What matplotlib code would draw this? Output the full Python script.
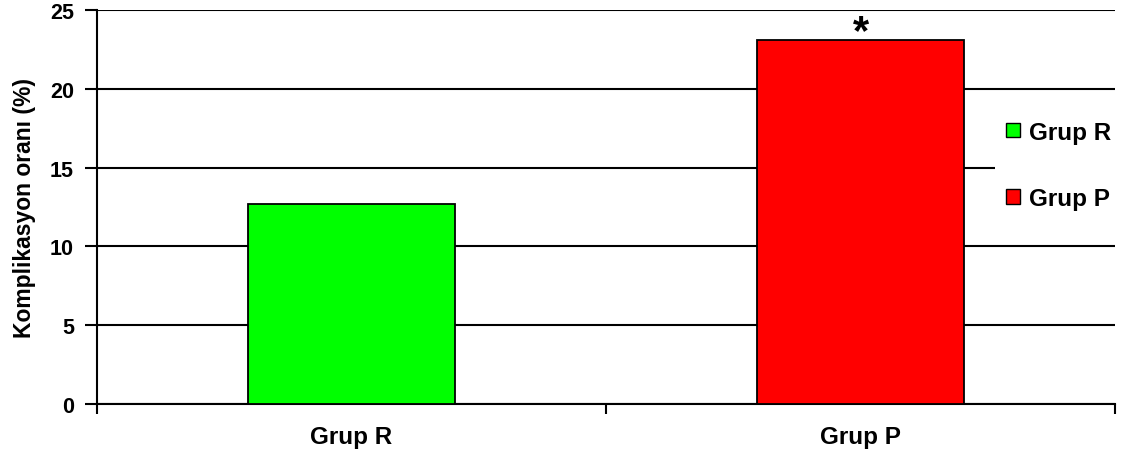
import matplotlib.pyplot as plt
from matplotlib.patches import Patch

plt.rcParams['font.family'] = ['Liberation Sans', 'DejaVu Sans']
plt.rcParams['font.weight'] = 'bold'

groups = ['Grup R', 'Grup P']
rates = [12.7, 23.1]
colors = ['#00ff00', '#ff0000']
significant = [False, True]

fig = plt.figure(figsize=(11.27, 4.6), dpi=100)
ax = fig.add_axes([0.0861, 0.1196, 0.9033, 0.8565])

positions = [0.5, 1.5]
ax.bar(positions, rates, width=0.405, color=colors, edgecolor='black', linewidth=1.3, zorder=3)

# significance mark above the bar
for x, v, sig in zip(positions, rates, significant):
    if sig:
        ax.annotate('*', xy=(x, v), xytext=(0, -2), textcoords='offset points',
                    ha='center', va='baseline', fontsize=30, fontweight='bold')

ax.set_xlim(0, 2)
ax.set_ylim(0, 25)
ax.set_yticks([0, 5, 10, 15, 20, 25])
ax.set_xticks([0, 1, 2])
ax.set_xticklabels([])
ax.set_xticks(positions, minor=True)
ax.set_xticklabels(groups, minor=True, fontsize=17.5, fontweight='bold')
ax.tick_params(axis='x', which='minor', length=0, pad=15)
ax.tick_params(axis='x', which='major', length=7, width=1.5, direction='out')
ax.tick_params(axis='y', length=9, width=1.5, direction='out', labelsize=15.5, pad=7.5)

ax.yaxis.grid(True, color='black', linewidth=1.5)
ax.set_axisbelow(True)
for side in ['top', 'right']:
    ax.spines[side].set_visible(False)
for side in ['left', 'bottom']:
    ax.spines[side].set_linewidth(1.5)

ax.set_ylabel('Komplikasyon oranı (%)', fontsize=16.5, fontweight='bold', labelpad=10)

handles = [Patch(facecolor=c, edgecolor='black', linewidth=1.0) for c in colors]
leg = fig.legend(handles, groups, loc='center left', bbox_to_anchor=(0.883, 0.638),
                 frameon=True, fancybox=False, facecolor='white', edgecolor='none',
                 framealpha=1, prop={'size': 17.5, 'weight': 'bold'},
                 handlelength=0.58, handleheight=0.55, handletextpad=0.35,
                 labelspacing=1.8, borderpad=0.45, borderaxespad=0)

fig.savefig('out.png', dpi=100)
